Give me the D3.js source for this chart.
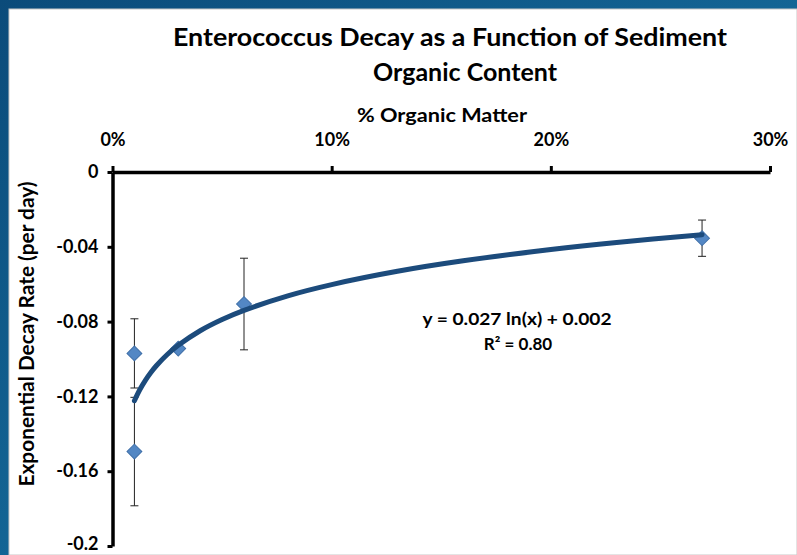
<!DOCTYPE html>
<html>
<head>
<meta charset="utf-8">
<script src="https://cdn.jsdelivr.net/npm/d3@7"></script>
<style>
  body { margin: 0; padding: 0; }
  text { font-family: Lato, "Open Sans", sans-serif; fill: #000; }
</style>
</head>
<body>
<div id="chart"></div>
<script>
const organicFrac = [0.01, 0.01, 0.03, 0.06, 0.269];
const decayRate = [-0.097, -0.1495, -0.0944, -0.0706, -0.0354];
const decayErr = [0.0185, 0.029, 0, 0.0245, 0.0097];

// log trendline, as drawn
const trendX = [0.01, 0.0125, 0.015, 0.0175, 0.02, 0.025, 0.03, 0.04, 0.05, 0.06, 0.08, 0.10, 0.13, 0.16, 0.20, 0.23, 0.269];
const trendY = [-0.1223, -0.1163, -0.1114, -0.1072, -0.1036, -0.0976, -0.0927, -0.0849, -0.0789, -0.0740, -0.0662, -0.0602, -0.0531, -0.0475, -0.0415, -0.0377, -0.0335];

const xTicks = [0, 0.1, 0.2, 0.3];
const yTicks = [0, -0.04, -0.08, -0.12, -0.16, -0.2];

const titleLines = ['Enterococcus Decay as a Function of Sediment', 'Organic Content'];
const xTitle = '% Organic Matter';
const yTitle = 'Exponential Decay Rate (per day)';
const eqLines = ['y = 0.027 ln(x) + 0.002', 'R² = 0.80'];

const W = 797, H = 555;

const svg = d3.select('#chart').append('svg')
    .attr('width', W)
    .attr('height', H);

// slide background
const defs = svg.append('defs');
const grad = defs.append('linearGradient')
    .attr('id', 'bg')
    .attr('x1', '0').attr('y1', '0').attr('x2', '1').attr('y2', '1');
grad.append('stop').attr('offset', '0%').attr('stop-color', '#0b4b7a');
grad.append('stop').attr('offset', '60%').attr('stop-color', '#156a9a');
grad.append('stop').attr('offset', '100%').attr('stop-color', '#1d77a6');

svg.append('rect').attr('width', W).attr('height', H).attr('fill', 'url(#bg)');
svg.append('rect')
    .attr('x', 9).attr('y', 9)
    .attr('width', W - 9).attr('height', H - 9)
    .attr('fill', '#fff')
    .attr('stroke', '#c8c8c8')
    .attr('stroke-width', 1);

const x = d3.scaleLinear().domain([0, 0.3]).range([112.5, 770]);
const y = d3.scaleLinear().domain([-0.2, 0]).range([546, 172]);

// stretch/squeeze text to a target width
function fitWidth(sel, w) {
    sel.each(function () {
        const len = this.getComputedTextLength();
        if (Math.abs(len - w) > 2) {
            d3.select(this).attr('textLength', w).attr('lengthAdjust', 'spacingAndGlyphs');
        }
    });
}

// titles
svg.append('text')
    .attr('x', 450).attr('y', 46)
    .attr('text-anchor', 'middle')
    .style('font-size', '25px').style('font-weight', 'bold')
    .text(titleLines[0])
    .call(fitWidth, 554);
svg.append('text')
    .attr('x', 465).attr('y', 81)
    .attr('text-anchor', 'middle')
    .style('font-size', '25px').style('font-weight', 'bold')
    .text(titleLines[1]);

svg.append('text')
    .attr('x', 442).attr('y', 122)
    .attr('text-anchor', 'middle')
    .style('font-size', '19px').style('font-weight', 'bold')
    .text(xTitle)
    .call(fitWidth, 170);

svg.append('text')
    .attr('transform', 'translate(34, 334) rotate(-90)')
    .attr('text-anchor', 'middle')
    .style('font-size', '20px').style('font-weight', 'bold')
    .text(yTitle)
    .call(fitWidth, 305);

// axes
const xAxis = d3.axisTop(x)
    .tickValues(xTicks)
    .tickFormat(d3.format('.0%'))
    .tickSize(6)
    .tickSizeOuter(0)
    .tickPadding(20);

const yAxis = d3.axisLeft(y)
    .tickValues(yTicks)
    .tickFormat(d => String(+d.toFixed(2)))
    .tickSize(5)
    .tickSizeOuter(0)
    .tickPadding(9);

const gx = svg.append('g')
    .attr('class', 'axis axis--x')
    .attr('transform', `translate(0, ${y(0)})`)
    .call(xAxis);

const gy = svg.append('g')
    .attr('class', 'axis axis--y')
    .attr('transform', `translate(${x(0)}, 0)`)
    .call(yAxis);

[gx, gy].forEach(g => {
    g.select('.domain').attr('stroke', '#000').attr('stroke-width', 3.5);
    g.selectAll('.tick line').attr('stroke', '#000').attr('stroke-width', 3);
    g.selectAll('.tick text')
        .style('font-family', 'Lato, "Open Sans", sans-serif')
        .style('font-size', '18px')
        .style('font-weight', 'bold')
        .attr('fill', '#000');
});
// keep the lowest label inside the picture
gy.selectAll('.tick text').filter(d => d === -0.2).attr('dy', '0.2em');

// data rows
const points = organicFrac.map((v, i) => ({ x: v, y: decayRate[i], e: decayErr[i] }));

// error bars
const eb = svg.append('g').attr('class', 'errorbars')
    .selectAll('g')
    .data(points.filter(d => d.e > 0))
    .enter()
    .append('g')
    .attr('stroke', '#222')
    .attr('stroke-width', 1);

eb.append('line')
    .attr('x1', d => x(d.x)).attr('x2', d => x(d.x))
    .attr('y1', d => y(d.y + d.e)).attr('y2', d => y(d.y - d.e));
eb.append('line')
    .attr('x1', d => x(d.x) - 4).attr('x2', d => x(d.x) + 4)
    .attr('y1', d => y(d.y + d.e)).attr('y2', d => y(d.y + d.e));
eb.append('line')
    .attr('x1', d => x(d.x) - 4).attr('x2', d => x(d.x) + 4)
    .attr('y1', d => y(d.y - d.e)).attr('y2', d => y(d.y - d.e));

// diamonds
const diamond = d3.symbol().type(d3.symbolSquare).size(110);
svg.append('g').attr('class', 'points')
    .selectAll('path')
    .data(points)
    .enter()
    .append('path')
    .attr('d', diamond)
    .attr('transform', d => `translate(${x(d.x)}, ${y(d.y)}) rotate(45)`)
    .attr('fill', '#5387c4')
    .attr('stroke', '#3f6fa8')
    .attr('stroke-width', 1);

// trendline (drawn over the markers, as in the original)
const trend = trendX.map((v, i) => [v, trendY[i]]);
const line = d3.line()
    .x(d => x(d[0]))
    .y(d => y(d[1]))
    .curve(d3.curveCatmullRom);

svg.append('path')
    .datum(trend)
    .attr('fill', 'none')
    .attr('stroke', '#1c4b7c')
    .attr('stroke-width', 5)
    .attr('stroke-linecap', 'round')
    .attr('d', line);

// equation label
svg.append('text')
    .attr('x', 517).attr('y', 325)
    .attr('text-anchor', 'middle')
    .style('font-size', '17px').style('font-weight', 'bold')
    .text(eqLines[0])
    .call(fitWidth, 189);
svg.append('text')
    .attr('x', 518).attr('y', 350)
    .attr('text-anchor', 'middle')
    .style('font-size', '17px').style('font-weight', 'bold')
    .text(eqLines[1]);
</script>
</body>
</html>
